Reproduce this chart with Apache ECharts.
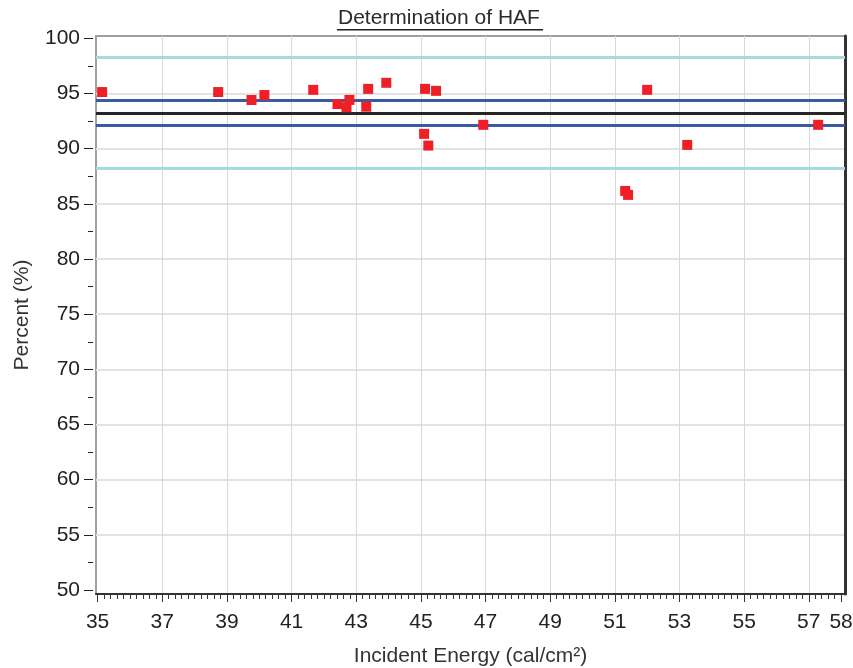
<!DOCTYPE html>
<html>
<head>
<meta charset="utf-8">
<script src="https://cdn.jsdelivr.net/npm/echarts@6/dist/echarts.min.js"></script>
<style>
  html, body { margin: 0; padding: 0; background: #fff; }
  #haf { width: 853px; height: 668px; }
</style>
</head>
<body>
<div id="haf"></div>
<script>
// 测点数据: 入射能量 / 百分比
const energy = [35.14, 38.73, 39.76, 40.16, 41.67, 42.42, 42.70, 42.79, 43.31, 43.37, 43.93,
  45.10, 45.13, 45.23, 45.47, 46.93, 51.32, 51.41, 52.00, 53.24, 57.29];
const percent = [95.13, 95.13, 94.41, 94.86, 95.33, 94.04, 93.75, 94.42, 93.80, 95.42, 95.97,
  91.34, 95.42, 90.28, 95.24, 92.16, 86.17, 85.81, 95.33, 90.34, 92.16];

// 参考线
const meanLine = [93.25];
const innerBand = [92.15, 94.35];
const outerBand = [88.25, 98.25];

// 刻度
const xMajorTicks = [35, 37, 39, 41, 43, 45, 47, 49, 51, 53, 55, 57, 58];
const xGridValues = [37, 39, 41, 43, 45, 47, 49, 51, 53, 55, 57];
const yMajorTicks = [50, 55, 60, 65, 70, 75, 80, 85, 90, 95, 100];
const yMinorTicks = [52.5, 57.5, 62.5, 67.5, 72.5, 77.5, 82.5, 87.5, 92.5, 97.5];
const yGridValues = [55, 60, 65, 70, 75, 80, 85, 90, 95];

const X_MIN = 34.95, X_MAX = 58.12;
const Y_MIN = 49.64, Y_MAX = 100.21;

// 次刻度 每 0.2
let xMinorTicks = [];
for (let i = 0; i <= 115; i++) {
  xMinorTicks.push(Math.round((35 + i * 0.2) * 10) / 10);
}

const plain = "'Liberation Sans', Arial, sans-serif";

function refLine(val, color, width) {
  return {yAxis: val, lineStyle: {color: color, width: width, type: 'solid'}};
}

let lineData = [];
outerBand.forEach(v => lineData.push(refLine(v, '#a6dbd8', 3)));
innerBand.forEach(v => lineData.push(refLine(v, '#3b5aa5', 3)));
meanLine.forEach(v => lineData.push(refLine(v, '#262626', 3)));

let points = [];
for (let i = 0; i < energy.length; i++) {
  points.push([energy[i], percent[i]]);
}

const option = {
  animation: false,
  backgroundColor: '#fff',
  graphic: [
    {
      type: 'text', left: 338, top: 8,
      style: {text: 'Determination of HAF', font: "21px " + plain, fill: '#2a2a2a'}
    },
    {
      type: 'rect', left: 337, top: 29,
      shape: {width: 206, height: 1.6},
      style: {fill: '#222'}
    }
  ],
  grid: {
    left: 96, top: 36, right: 8, bottom: 74,
    outerBoundsMode: 'none', containLabel: false,
    show: true, borderColor: '#a0a0a0', borderWidth: 2, backgroundColor: '#fff'
  },
  xAxis: [
    {
      type: 'value', min: X_MIN, max: X_MAX, position: 'bottom',
      name: 'Incident Energy (cal/cm²)', nameLocation: 'middle', nameGap: 52,
      nameTextStyle: {fontFamily: plain, fontSize: 21, color: '#333'},
      axisLine: {show: true, onZero: false, lineStyle: {color: '#333', width: 2}},
      axisTick: {show: true, customValues: xMajorTicks, length: 8, lineStyle: {color: '#333'}},
      axisLabel: {customValues: xMajorTicks, margin: 18, fontFamily: plain, fontSize: 21, color: '#222'},
      splitLine: {show: false}
    },
    {
      type: 'value', min: X_MIN, max: X_MAX, position: 'bottom',
      axisLine: {show: false, onZero: false},
      axisTick: {show: true, customValues: xMinorTicks, length: 5, lineStyle: {color: '#333'}},
      axisLabel: {show: false},
      splitLine: {show: false}
    },
    {
      type: 'value', min: X_MIN, max: X_MAX, position: 'bottom',
      axisLine: {show: false, onZero: false},
      axisTick: {show: false, customValues: xGridValues},
      axisLabel: {show: false},
      splitLine: {show: true, lineStyle: {color: '#d9d9d9', width: 1}}
    }
  ],
  yAxis: [
    {
      type: 'value', min: Y_MIN, max: Y_MAX, position: 'left', offset: 3,
      name: 'Percent (%)', nameLocation: 'middle', nameGap: 60,
      nameTextStyle: {fontFamily: plain, fontSize: 21, color: '#333'},
      axisLine: {show: false},
      axisTick: {show: true, customValues: yMajorTicks, length: 9, lineStyle: {color: '#222'}},
      axisLabel: {customValues: yMajorTicks, margin: 13, fontFamily: plain, fontSize: 21, color: '#222'},
      splitLine: {show: false}
    },
    {
      type: 'value', min: Y_MIN, max: Y_MAX, position: 'left', offset: 3,
      axisLine: {show: false},
      axisTick: {show: true, customValues: yMinorTicks, length: 5, lineStyle: {color: '#222'}},
      axisLabel: {show: false},
      splitLine: {show: false}
    },
    {
      type: 'value', min: Y_MIN, max: Y_MAX, position: 'left',
      axisLine: {show: false},
      axisTick: {show: false, customValues: yGridValues},
      axisLabel: {show: false},
      splitLine: {show: true, lineStyle: {color: '#e3e3e3', width: 2}}
    },
    {
      type: 'value', min: Y_MIN, max: Y_MAX, position: 'right',
      axisLine: {show: true, lineStyle: {color: '#333', width: 3}},
      axisTick: {show: false},
      axisLabel: {show: false},
      splitLine: {show: false}
    }
  ],
  series: [
    {
      type: 'scatter', data: [], z: 1,
      markLine: {
        silent: true, symbol: 'none', animation: false,
        label: {show: false},
        data: lineData
      }
    },
    {
      type: 'scatter', data: points, z: 5,
      symbol: 'rect', symbolSize: 10,
      itemStyle: {color: '#ee1f26', opacity: 1}
    }
  ]
};

let chart = echarts.init(document.getElementById('haf'));
chart.setOption(option);
</script>
</body>
</html>
